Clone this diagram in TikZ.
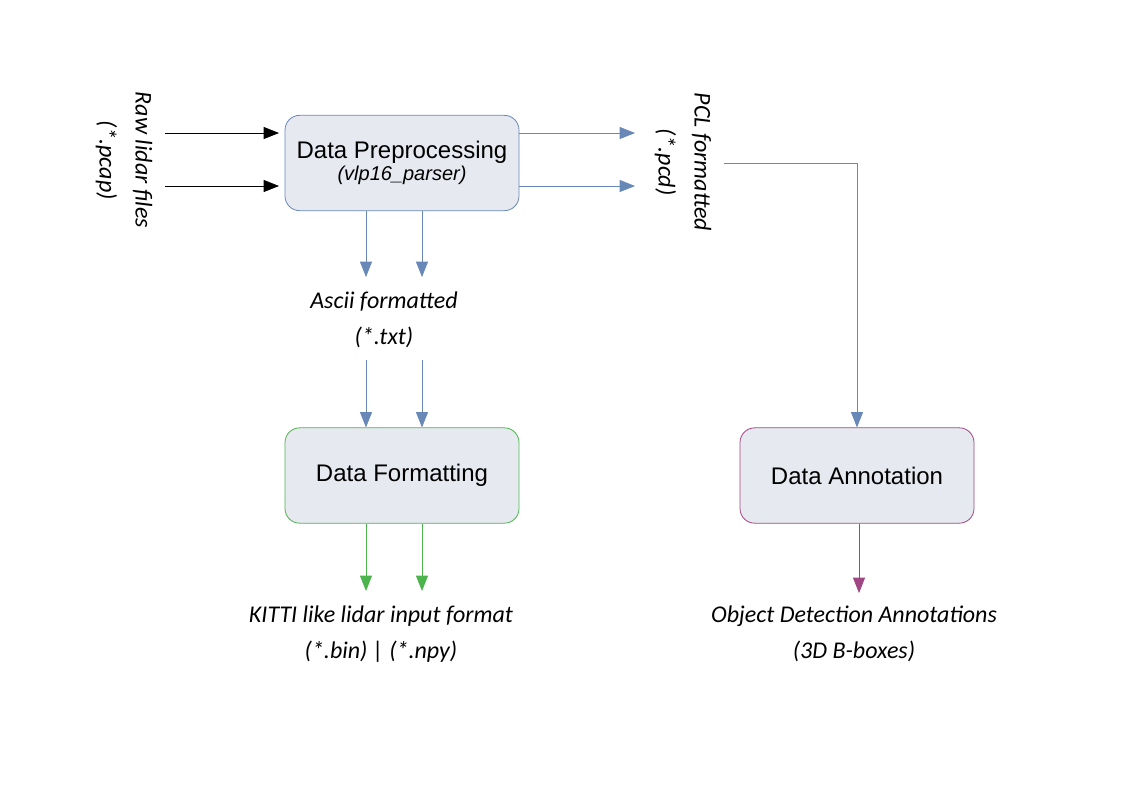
\documentclass[tikz,border=0pt]{standalone}
\usepackage{fontspec}
\setmainfont{Liberation Sans}
\newfontfamily\labelfont{Carlito}
\usetikzlibrary{arrows.meta}
\definecolor{bluec}{RGB}{104,136,184}
\definecolor{greenc}{RGB}{76,180,76}
\definecolor{purplec}{RGB}{160,70,130}
\definecolor{boxfill}{RGB}{230,233,239}
\tikzset{
  procbox/.style={draw, fill=boxfill, rounded corners=11pt, minimum width=175.5pt, minimum height=71.5pt, line width=0.6pt, align=center, font=\fontsize{18}{18}\selectfont},
  lbl/.style={font=\labelfont\itshape\fontsize{18}{27}\selectfont, align=center},
  tip/.style={-{Triangle[length=11.5pt,width=9pt]}, line width=0.6pt},
}
\begin{document}
\begin{tikzpicture}[x=0.75pt,y=-0.75pt]
\useasboundingbox (0,0) rectangle (1123,794);
% boxes
\node[procbox, draw=bluec] (pre) at (402,163) {Data Preprocessing\\[-2pt]{\itshape\fontsize{15}{18}\selectfont (vlp16\_parser)}};
\node[procbox, draw=greenc] (fmt) at (402,475.5) {Data Formatting};
\node[procbox, draw=purplec] (ann) at (857,475.5) {Data Annotation};
% labels
\node[lbl, rotate=-90] (raw) at (124,160) {Raw lidar files\\(*.pcap)};
\node[lbl, rotate=-90] (pcl) at (683,162) {PCL formatted\\(*.pcd)};
\node[lbl] (ascii) at (384,320) {Ascii formatted\\(*.txt)};
\node[lbl] (kitti) at (381,634) {KITTI like lidar input format\\(*.bin) | (*.npy)};
\node[lbl] (obj) at (854,634) {Object Detection Annotations\\(3D B-boxes)};
% coordinates
\coordinate (r1) at (165,133); \coordinate (r1e) at (279,133);
\coordinate (r2) at (165,186); \coordinate (r2e) at (279,186);
\coordinate (p1e) at (635,133); \coordinate (p2e) at (635,186);
\coordinate (pclout) at (724,163); \coordinate (pcl2) at (857,163);
% input arrows
\draw[tip, black] (r1) -- (r1e);
\draw[tip, black] (r2) -- (r2e);
% output pcd arrows
\draw[tip, bluec] (pre.east |- r1) -- (p1e);
\draw[tip, bluec] (pre.east |- r2) -- (p2e);
% down arrows to ascii
\draw[tip, bluec] (pre.south -| 366,0) -- (366,277);
\draw[tip, bluec] (pre.south -| 422,0) -- (422,277);
% ascii to formatting
\draw[tip, bluec] (366,360) -- (fmt.north -| 366,0);
\draw[tip, bluec] (422,360) -- (fmt.north -| 422,0);
% formatting to kitti
\draw[tip, greenc] (fmt.south -| 366,0) -- (366,591);
\draw[tip, greenc] (fmt.south -| 422,0) -- (422,591);
% pcl to annotation
\draw[tip, bluec] (pclout) -- (pcl2) -- (ann.north -| pcl2);
% annotation to obj
\draw[tip, purplec] (ann.south -| 859,0) -- (859,593);
\end{tikzpicture}
\end{document}
